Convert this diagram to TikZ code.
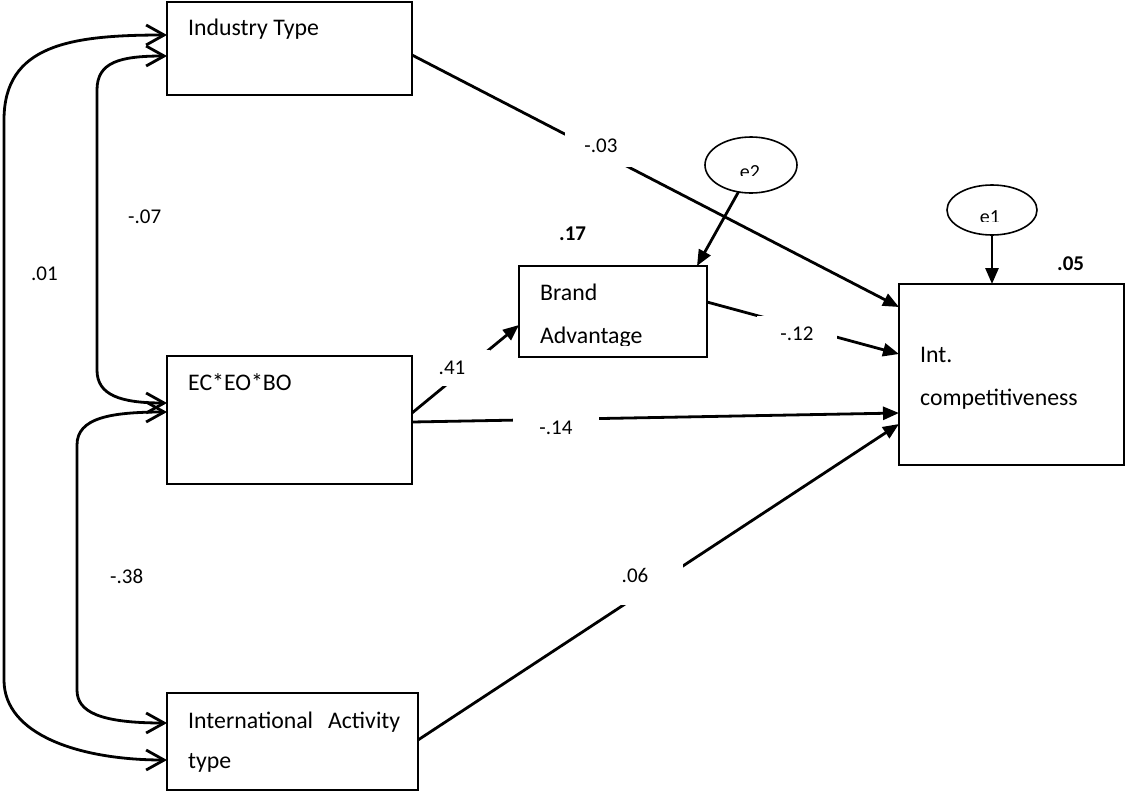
\documentclass[tikz,border=0pt]{standalone}
\usepackage{fontspec}
\setmainfont{Carlito}
\usetikzlibrary{arrows.meta,shapes.geometric}

\begin{document}
\begin{tikzpicture}[x=1pt,y=-1pt,
  varbox/.style={draw, line width=2pt, rectangle, inner sep=0pt, outer sep=0pt},
  errnode/.style={draw, line width=1.6pt, ellipse, inner sep=0pt, outer sep=0pt},
  boxtext/.style={anchor=base west, inner sep=0pt, font=\fontsize{23.8}{28}\selectfont},
  errtext/.style={anchor=base, inner sep=0pt, font=\fontsize{20}{24}\selectfont},
  coef/.style={fill=white, inner sep=0pt, font=\fontsize{21}{25}\selectfont},
  covlab/.style={anchor=base west, inner sep=0pt, font=\fontsize{21}{25}\selectfont},
  rsq/.style={anchor=base west, inner sep=0pt, font=\bfseries\fontsize{21}{25}\selectfont},
  effect/.style={line width=2.8pt, -{Triangle[length=16pt,width=13pt]}},
  cov/.style={line width=2.8pt, {Straight Barb[length=18pt,width=20pt]}-{Straight Barb[length=18pt,width=20pt]}},
]
\useasboundingbox (0,0) rectangle (1125,793);

% observed variables
\node[varbox, minimum width=245pt, minimum height=93pt]  (ind)   at (289.5,48.5) {};
\node[varbox, minimum width=245pt, minimum height=128pt] (ec)    at (289.5,420) {};
\node[varbox, minimum width=251pt, minimum height=97pt]  (intl)  at (292.5,741.5) {};
\node[varbox, minimum width=188pt, minimum height=91pt]  (brand) at (613,311.5) {};
\node[varbox, minimum width=225pt, minimum height=181pt] (comp)  at (1011.5,374.5) {};

% error terms
\node[errnode, minimum width=90pt, minimum height=50pt] (e1) at (992,210) {};
\node[errnode, minimum width=92pt, minimum height=56pt] (e2) at (751,165) {};

% box texts
\node[boxtext] (tind)   at (188,35)  {Industry Type};
\node[boxtext] (tec)    at (188,390) {EC*EO*BO};
\node[boxtext] (tintl1) at (188,728) {International\hspace{15pt}Activity};
\node[boxtext] (tintl2) at (188,768) {type};
\node[boxtext] (tbr1)   at (540,300) {Brand};
\begin{scope}
  \clip (520,267) rectangle (706,345);
  \node[boxtext] (tbr2) at (540,343) {Advantage};
\end{scope}
\node[boxtext] (tco1) at (920,362) {Int.};
\node[boxtext] (tco2) at (920,405) {competitiveness};

\begin{scope}
  \clip (940,180) rectangle (1045,221);
  \node[errtext] (te1) at (990,223) {e1};
\end{scope}
\begin{scope}
  \clip (700,130) rectangle (800,175);
  \node[errtext] (te2) at (750,178) {e2};
\end{scope}

% covariances
\draw[cov] ([yshift=13.5pt]ind.west) .. controls (70,35) and (4,45) .. (4,120)
  -- (4,680) .. controls (4,735) and (80,760) .. ([yshift=-18.5pt]intl.west);
\draw[cov] ([yshift=-7.5pt]ind.west) .. controls (120,56) and (97,62) .. (97,90)
  -- (97,370) .. controls (97,395) and (120,403) .. ([yshift=17pt]ec.west);
\draw[cov] ([yshift=8pt]ec.west) .. controls (110,412) and (77,418) .. (77,445)
  -- (77,690) .. controls (77,712) and (100,723) .. ([yshift=18.5pt]intl.west);

% regression paths
\draw[effect] ([yshift=-6.5pt]ind.east)  -- ([yshift=67.5pt]comp.west);
\draw[effect] ([yshift=9.5pt]brand.east) -- ([yshift=20.5pt]comp.west);
\draw[effect] ([yshift=-2pt]ec.east)     -- ([yshift=-38.5pt]comp.west);
\draw[effect] ([yshift=1.5pt]intl.east)  -- ([yshift=-49.5pt]comp.west);
\draw[effect] ([yshift=7pt]ec.east)      -- ([yshift=-13.5pt]brand.west);
\draw[effect] (e1.south) -- (e1.south |- comp.north);
\draw[effect] (e2.245) -- ([xshift=-10pt]brand.north east);

% coefficients
\node[coef, minimum width=72pt, minimum height=42pt] (c03) at (601,146) {-.03};
\node[coef, minimum width=80pt, minimum height=36pt] (c12) at (797,334) {-.12};
\node[coef, minimum width=86pt, minimum height=30pt] (c14) at (556,428) {-.14};
\node[coef, minimum width=76pt, minimum height=36pt] (c41) at (452,368) {.41};
\node[coef, minimum width=96pt, minimum height=60pt] (c06) at (635,575) {.06};

\node[covlab] (c07) at (128,223) {-.07};
\node[covlab] (c01) at (31,280)  {.01};
\node[covlab] (c38) at (110,583) {-.38};

% squared multiple correlations
\node[rsq] (r17) at (559,240)  {.17};
\node[rsq] (r05) at (1057,270) {.05};
\end{tikzpicture}
\end{document}
